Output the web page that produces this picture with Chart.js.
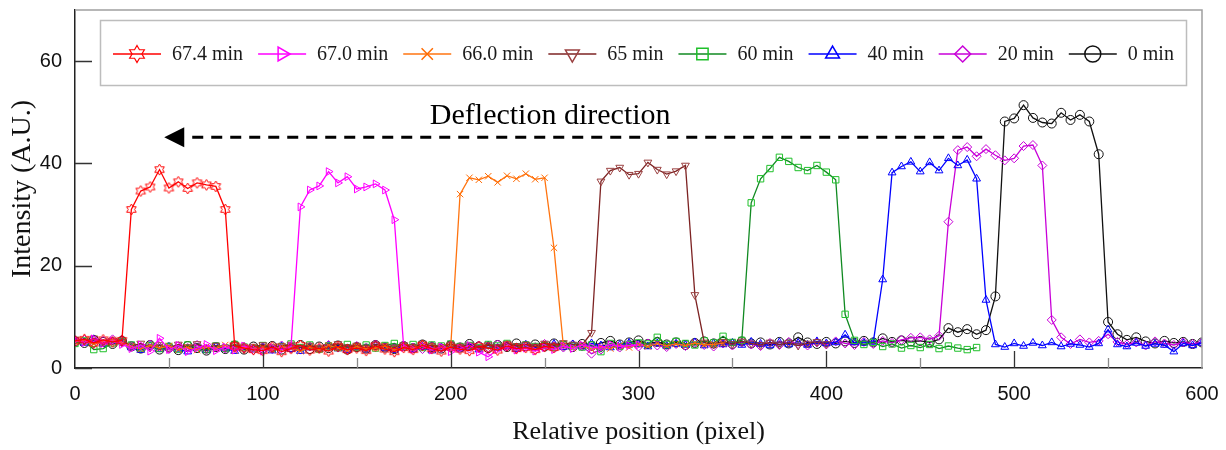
<!DOCTYPE html>
<html>
<head>
<meta charset="utf-8">
<script src="https://cdn.jsdelivr.net/npm/chart.js@4.4.1/dist/chart.umd.min.js"></script>
<style>
  body { margin: 0; background: #fff; }
</style>
</head>
<body>
<canvas id="profileChart" width="1226" height="450"></canvas>
<script>
/* =========================
   DATA
========================= */
const positions = [
    0, 5, 10, 15, 20, 25, 30, 35, 40, 45, 50, 55, 60, 65, 70, 75, 80, 85, 90, 95,
    100, 105, 110, 115, 120, 125, 130, 135, 140, 145, 150, 155, 160, 165, 170, 175, 180, 185, 190, 195,
    200, 205, 210, 215, 220, 225, 230, 235, 240, 245, 250, 255, 260, 265, 270, 275, 280, 285, 290, 295,
    300, 305, 310, 315, 320, 325, 330, 335, 340, 345, 350, 355, 360, 365, 370, 375, 380, 385, 390, 395,
    400, 405, 410, 415, 420, 425, 430, 435, 440, 445, 450, 455, 460, 465, 470, 475, 480, 485, 490, 495,
    500, 505, 510, 515, 520, 525, 530, 535, 540, 545, 550, 555, 560, 565, 570, 575, 580, 585, 590, 595,
    600
];

const seriesNames = ["67.4 min", "67.0 min", "66.0 min", "65 min", "60 min", "40 min", "20 min", "0 min"];

const int674 = [
    5.3, 5.6, 4.9, 5.5, 5.1, 5.4, 31.0, 34.6, 35.4, 38.8,
    35.2, 36.4, 35.1, 36.2, 35.8, 35.5, 31.0, 4.3, 3.9, 3.6,
    3.4, 4.1, 3.2, 3.8, 4.4, 3.5, 3.9, 3.3, 4.2, 3.6,
    3.9, 3.4, 4.3, 3.7, 3.2, 4.0, 3.6, 4.4, 3.8, 3.3,
    4.1, 3.7, 3.4, 4.2, 3.9, 3.5, 4.3, 3.8, 4.0, 3.6,
    4.2, 4.0
];
const int670 = [
    5.5, 5.0, 5.7, 4.8, 5.3, 4.6, 3.8, 4.5, 3.3, 5.8,
    3.6, 4.4, 3.2, 3.9, 4.6, 3.4, 4.1, 3.5, 4.3, 3.7,
    3.3, 4.0, 3.6, 4.2, 31.5, 34.8, 35.6, 38.4, 36.2, 37.4,
    35.0, 35.4, 36.0, 34.8, 29.0, 4.0, 3.6, 4.3, 3.5, 4.1,
    3.2, 3.8, 4.4, 3.1, 2.2, 3.6, 4.2, 3.5, 3.9, 3.3,
    4.0, 3.6, 4.3, 3.8, 4.5, 4.1, 3.9, 4.6, 4.2, 4.4,
    4.5
];
const int660 = [
    5.1, 5.4, 4.7, 5.2, 5.5, 4.9, 4.2, 3.7, 4.4, 3.9,
    4.3, 3.6, 4.0, 3.5, 4.2, 3.8, 4.5, 3.4, 4.1, 3.7,
    4.0, 3.5, 4.2, 3.8, 3.3, 4.1, 3.6, 4.4, 3.9, 3.4,
    4.2, 3.7, 3.9, 4.3, 3.5, 4.0, 3.8, 4.4, 3.6, 4.1,
    4.0, 34.0, 37.2, 36.8, 37.5, 36.3, 37.6, 37.0, 38.0, 36.9,
    37.2, 23.5, 4.3, 3.9, 4.5, 3.6, 4.2, 3.8, 4.4, 4.0,
    4.6, 4.2, 4.8, 4.3, 4.7, 4.4, 4.9, 4.5, 4.6, 4.8
];
const int65 = [
    5.6, 5.2, 5.8, 5.0, 5.4, 5.1, 4.3, 4.8, 4.0, 4.5,
    3.9, 4.6, 4.1, 4.7, 3.8, 4.4, 4.0, 4.5, 3.7, 4.2,
    4.5, 3.9, 4.3, 4.6, 4.0, 4.4, 3.8, 4.2, 4.7, 4.1,
    4.4, 3.9, 4.6, 4.2, 4.0, 4.5, 4.1, 4.8, 4.3, 4.0,
    4.6, 4.2, 4.4, 3.9, 4.5, 4.1, 4.7, 4.3, 4.6, 4.2,
    4.8, 4.4, 4.9, 4.6, 4.5, 6.9, 36.5, 38.6, 39.2, 37.8,
    38.0, 40.2, 38.8, 37.9, 38.5, 39.6, 14.3, 5.0, 4.6, 5.1,
    4.7, 5.2, 4.8, 4.5, 5.0, 4.6, 4.9, 4.4, 4.8, 5.1,
    4.7
];
const int60 = [
    4.8, 5.3, 3.6, 3.8, 4.9, 5.2, 4.5, 3.9, 4.4, 3.8,
    4.2, 3.7, 4.5, 4.0, 3.6, 4.3, 3.9, 4.6, 4.1, 3.8,
    4.4, 3.9, 4.2, 4.7, 4.0, 4.5, 3.7, 4.3, 4.0, 4.6,
    4.1, 4.5, 3.9, 4.4, 4.8, 4.2, 4.6, 4.0, 4.5, 4.3,
    4.7, 4.2, 4.4, 4.0, 4.6, 4.3, 4.8, 4.1, 4.5, 4.2,
    4.4, 4.0, 4.6, 4.3, 4.1, 4.5, 3.2, 4.8, 4.2, 4.6,
    4.9, 4.7, 6.0, 4.6, 5.2, 4.8, 4.5, 5.3, 4.9, 6.2,
    5.0, 5.4, 32.3, 37.0, 39.0, 41.2, 40.4, 39.2, 38.6, 39.6,
    38.3, 36.8, 10.5, 5.4, 4.6, 5.0, 4.2, 4.7, 3.9, 4.4,
    4.0, 4.6, 3.8, 4.3, 3.9, 3.6, 4.0
];
const int40 = [
    5.4, 4.9, 5.6, 4.7, 5.2, 5.5, 4.0, 3.5, 4.3, 3.7,
    4.1, 3.6, 3.2, 4.0, 3.5, 4.2, 3.8, 3.3, 4.1, 3.6,
    3.9, 3.4, 4.2, 3.7, 3.3, 4.0, 3.6, 4.3, 3.8, 3.5,
    4.0, 3.6, 4.4, 3.9, 3.5, 4.2, 3.7, 4.1, 3.4, 3.9,
    4.3, 3.8, 4.1, 3.6, 4.4, 3.9, 4.2, 3.7, 4.5, 4.0,
    4.3, 4.7, 4.1, 4.6, 4.2, 4.8, 4.4, 4.0, 4.5, 4.9,
    4.6, 4.2, 4.8, 4.3, 4.7, 4.5, 5.0, 4.4, 4.8, 4.6,
    4.9, 4.5, 5.1, 4.7, 4.4, 5.0, 4.6, 4.9, 4.5, 5.2,
    4.8, 5.0, 6.5, 5.0, 4.9, 5.1, 17.3, 38.2, 39.4, 40.3,
    38.4, 40.2, 38.6, 41.0, 39.6, 40.7, 37.0, 13.3, 4.6, 4.1,
    4.8, 4.3, 4.9, 4.4, 5.0, 4.2, 4.7, 4.5, 4.1, 4.8,
    7.5, 4.6, 4.2, 4.9, 4.3, 4.7, 4.5, 3.2, 4.8, 4.4,
    4.9
];
const int20 = [
    5.0, 5.5, 4.8, 5.3, 5.6, 5.0, 4.4, 3.9, 4.6, 4.1,
    3.7, 4.3, 3.9, 4.5, 3.6, 4.2, 3.8, 4.4, 4.0, 3.5,
    4.1, 3.7, 4.4, 3.9, 3.6, 4.2, 3.8, 4.5, 4.0, 3.7,
    4.3, 3.9, 4.6, 4.1, 3.8, 4.4, 4.0, 3.7, 4.3, 3.9,
    4.5, 4.1, 3.8, 4.4, 4.0, 4.6, 4.2, 3.9, 4.5, 4.1,
    4.7, 4.3, 4.0, 4.6, 4.2, 2.8, 3.6, 4.4, 4.0, 4.6,
    4.2, 4.8, 4.4, 4.1, 4.7, 4.3, 4.9, 4.5, 4.2, 4.8,
    4.4, 5.0, 4.6, 4.3, 4.9, 4.5, 5.1, 4.7, 4.4, 5.0,
    4.6, 5.2, 4.8, 4.5, 5.1, 4.7, 5.3, 4.9, 5.5, 5.9,
    6.0, 5.6, 6.3, 28.6, 42.6, 43.2, 41.4, 42.8, 41.6, 40.6,
    41.0, 43.4, 43.6, 39.6, 9.4, 6.0, 4.7, 5.6, 5.0, 5.3,
    6.6, 5.1, 4.6, 5.0, 4.4, 5.2, 4.8, 4.5, 5.0, 4.7,
    5.0
];
const int0 = [
    5.2, 4.9, 5.5, 5.1, 4.7, 5.3, 4.2, 3.8, 4.5, 3.6,
    4.0, 3.5, 4.3, 3.9, 3.4, 4.1, 3.7, 4.4, 3.6, 4.2,
    3.8, 4.3, 3.6, 4.0, 4.5, 3.7, 4.2, 3.9, 4.4, 3.6,
    4.1, 3.8, 4.5, 4.0, 3.7, 4.3, 3.9, 4.6, 4.1, 3.8,
    4.4, 4.0, 4.7, 4.2, 3.9, 4.5, 4.1, 4.8, 4.3, 4.6,
    4.2, 4.8, 4.4, 4.1, 4.7, 4.3, 4.9, 5.3, 4.6, 5.0,
    5.4, 4.7, 5.1, 4.6, 5.0, 4.5, 4.9, 5.2, 4.8, 5.1,
    4.7, 5.2, 4.8, 5.0, 4.6, 5.1, 4.8, 6.0, 5.0, 4.7,
    5.1, 4.8, 5.2, 4.9, 5.3, 5.0, 5.8, 5.1, 5.4, 5.2,
    5.3, 5.0, 5.6, 7.8, 7.0, 7.6, 6.6, 7.4, 14.0, 48.2,
    48.8, 51.4, 48.9, 48.0, 47.8, 49.9, 48.5, 49.5, 48.2, 41.8,
    9.0, 6.6, 5.5, 6.0, 5.2, 4.8, 5.3, 4.9, 5.1, 4.7,
    5.0
];

const yTickValues = [0, 20, 40, 60];
const xMajorTicks = [100, 200, 300, 400, 500];
const xMinorTicks = [50, 150, 250, 350, 450, 550];

// "Deflection direction" arrow, in data units
const arrowFrom = 483;
const arrowTo = 47.5;
const arrowLevel = 45.1;
const arrowLabel = "Deflection direction";
const arrowLabelAt = [253, 49.3];

/* =========================
   STYLE
========================= */
const SERIF = '"Liberation Serif", "Times New Roman", serif';
const SANS = '"Liberation Sans", Arial, sans-serif';

function hexagram(R, color, lw) {
    const s = Math.ceil(R * 2 + lw * 2 + 2);
    const c = document.createElement("canvas");
    c.width = s; c.height = s;
    const g = c.getContext("2d");
    g.strokeStyle = color;
    g.lineWidth = lw;
    g.beginPath();
    for (let k = 0; k < 12; k++) {
        const r = k % 2 === 0 ? R : R / Math.sqrt(3);
        const a = -Math.PI / 2 + k * Math.PI / 6;
        const px = s / 2 + r * Math.cos(a), py = s / 2 + r * Math.sin(a);
        if (k === 0) g.moveTo(px, py); else g.lineTo(px, py);
    }
    g.closePath();
    g.stroke();
    return c;
}

const looks = [
    { line: "#ff0000", point: "#ff0000", style: hexagram(5.5, "#ff0000", 1), legendStyle: hexagram(8.5, "#ff0000", 1.2), rot: 0 },
    { line: "#ff00ff", point: "#ff00ff", style: "triangle", rot: 90 },
    { line: "#ff7410", point: "#ff6a00", style: "crossRot", rot: 0 },
    { line: "#7d2323", point: "#9a4040", style: "triangle", rot: 180 },
    { line: "#118a22", point: "#1fc02a", style: "rect", rot: 0 },
    { line: "#0000ff", point: "#0000ff", style: "triangle", rot: 0 },
    { line: "#c800d8", point: "#c800d8", style: "rectRot", rot: 0 },
    { line: "#111111", point: "#111111", style: "circle", rot: 0 }
];

const seriesValues = [int674, int670, int660, int65, int60, int40, int20, int0];

/* =========================
   PLUGIN: FRAME, TICKS, ARROW, LEGEND
========================= */
const decorations = {
    id: "decorations",
    afterDatasetsDraw(chart) {
        const { ctx, chartArea: a, scales: { x, y } } = chart;
        ctx.save();

        // grey box on top and right
        ctx.strokeStyle = "#a0a0a0";
        ctx.lineWidth = 1.5;
        ctx.beginPath();
        ctx.moveTo(a.left, a.top);
        ctx.lineTo(a.right, a.top);
        ctx.lineTo(a.right, a.bottom);
        ctx.stroke();

        // inward ticks
        ctx.strokeStyle = "#333";
        ctx.lineWidth = 1.3;
        ctx.beginPath();
        yTickValues.forEach(v => {
            const py = Math.round(y.getPixelForValue(v)) + 0.5;
            ctx.moveTo(a.left, py);
            ctx.lineTo(a.left + 17, py);
        });
        xMajorTicks.forEach(v => {
            const px = Math.round(x.getPixelForValue(v)) + 0.5;
            ctx.moveTo(px, a.bottom);
            ctx.lineTo(px, a.bottom - 17);
        });
        ctx.stroke();
        ctx.strokeStyle = "#8a8a8a";
        ctx.beginPath();
        xMinorTicks.forEach(v => {
            const px = Math.round(x.getPixelForValue(v)) + 0.5;
            ctx.moveTo(px, a.bottom);
            ctx.lineTo(px, a.bottom - 10);
        });
        ctx.stroke();

        // deflection arrow
        const x0 = x.getPixelForValue(arrowFrom);
        const x1 = x.getPixelForValue(arrowTo);
        const ya = y.getPixelForValue(arrowLevel);
        ctx.strokeStyle = "#000";
        ctx.lineWidth = 3;
        ctx.setLineDash([11, 8]);
        ctx.beginPath();
        ctx.moveTo(x0, ya);
        ctx.lineTo(x1 + 20, ya);
        ctx.stroke();
        ctx.setLineDash([]);
        ctx.fillStyle = "#000";
        ctx.beginPath();
        ctx.moveTo(x1, ya);
        ctx.lineTo(x1 + 20, ya - 10);
        ctx.lineTo(x1 + 20, ya + 10);
        ctx.closePath();
        ctx.fill();

        ctx.font = "30px " + SERIF;
        ctx.textAlign = "center";
        ctx.textBaseline = "middle";
        ctx.fillText(arrowLabel, x.getPixelForValue(arrowLabelAt[0]), y.getPixelForValue(arrowLabelAt[1]));

        ctx.restore();
    },
    afterDraw(chart) {
        const { ctx } = chart;
        ctx.save();
        ctx.fillStyle = "#fff";
        ctx.fillRect(100, 20, 1087, 66);
        ctx.strokeStyle = "#bdbdbd";
        ctx.lineWidth = 1.5;
        ctx.strokeRect(100.5, 20.5, 1086, 65);

        const cy = 54;
        let px = 113;
        ctx.font = "20px " + SERIF;
        ctx.textBaseline = "middle";
        ctx.textAlign = "left";
        seriesNames.forEach((name, i) => {
            const lk = looks[i];
            ctx.strokeStyle = lk.line;
            ctx.lineWidth = 1.5;
            ctx.beginPath();
            ctx.moveTo(px, cy);
            ctx.lineTo(px + 48, cy);
            ctx.stroke();

            ctx.strokeStyle = lk.point;
            ctx.fillStyle = "rgba(0,0,0,0)";
            ctx.lineWidth = 1.5;
            Chart.helpers.drawPoint(ctx, {
                pointStyle: lk.legendStyle || lk.style,
                rotation: lk.rot,
                radius: 8,
                borderWidth: 1.5
            }, px + 24, cy);

            ctx.fillStyle = "#1a1a1a";
            const tx = px + 59;
            ctx.fillText(name, tx, cy + 1);
            px = tx + ctx.measureText(name).width + 15;
        });
        ctx.restore();
    }
};

/* =========================
   CHART
========================= */
document.addEventListener("DOMContentLoaded", () => {
    const ctx = document.getElementById("profileChart").getContext("2d");

    const datasets = seriesNames.map((name, i) => ({
        label: name,
        data: seriesValues[i],
        borderColor: looks[i].line,
        borderWidth: 1.3,
        pointStyle: looks[i].style,
        pointRotation: looks[i].rot,
        pointRadius: 4.5,
        pointBorderWidth: 1,
        pointBorderColor: looks[i].point,
        pointBackgroundColor: "rgba(0,0,0,0)",
        tension: 0,
        fill: false
    }));

    new Chart(ctx, {
        type: "line",
        data: { labels: positions, datasets },
        options: {
            responsive: false,
            animation: false,
            events: [],
            layout: { padding: { top: 10, right: 24, left: 0, bottom: 0 } },
            plugins: {
                legend: { display: false },
                tooltip: { enabled: false }
            },
            scales: {
                x: {
                    type: "linear",
                    min: 0,
                    max: 600,
                    grid: { display: false, drawTicks: false },
                    border: { display: true, color: "#222", width: 1.5 },
                    ticks: {
                        stepSize: 100,
                        padding: 14,
                        maxRotation: 0,
                        color: "#111",
                        font: { family: SANS, size: 20 }
                    },
                    title: {
                        display: true,
                        text: "Relative position (pixel)",
                        color: "#111",
                        font: { family: SERIF, size: 26 },
                        padding: { top: 0, bottom: 2 }
                    },
                    afterFit: s => { s.height = 82; s.paddingLeft = 0; s.paddingRight = 0; }
                },
                y: {
                    min: 0,
                    max: 70,
                    grid: { display: false, drawTicks: false },
                    border: { display: true, color: "#222", width: 1.5 },
                    ticks: {
                        stepSize: 20,
                        includeBounds: false,
                        padding: 13,
                        color: "#111",
                        font: { family: SANS, size: 20 }
                    },
                    title: {
                        display: true,
                        text: "Intensity (A.U.)",
                        color: "#111",
                        font: { family: SERIF, size: 28 },
                        padding: { top: 6, bottom: 0 }
                    },
                    afterFit: s => { s.width = 75; s.paddingTop = 0; s.paddingBottom = 0; }
                }
            }
        },
        plugins: [decorations]
    });
});
</script>
</body>
</html>
